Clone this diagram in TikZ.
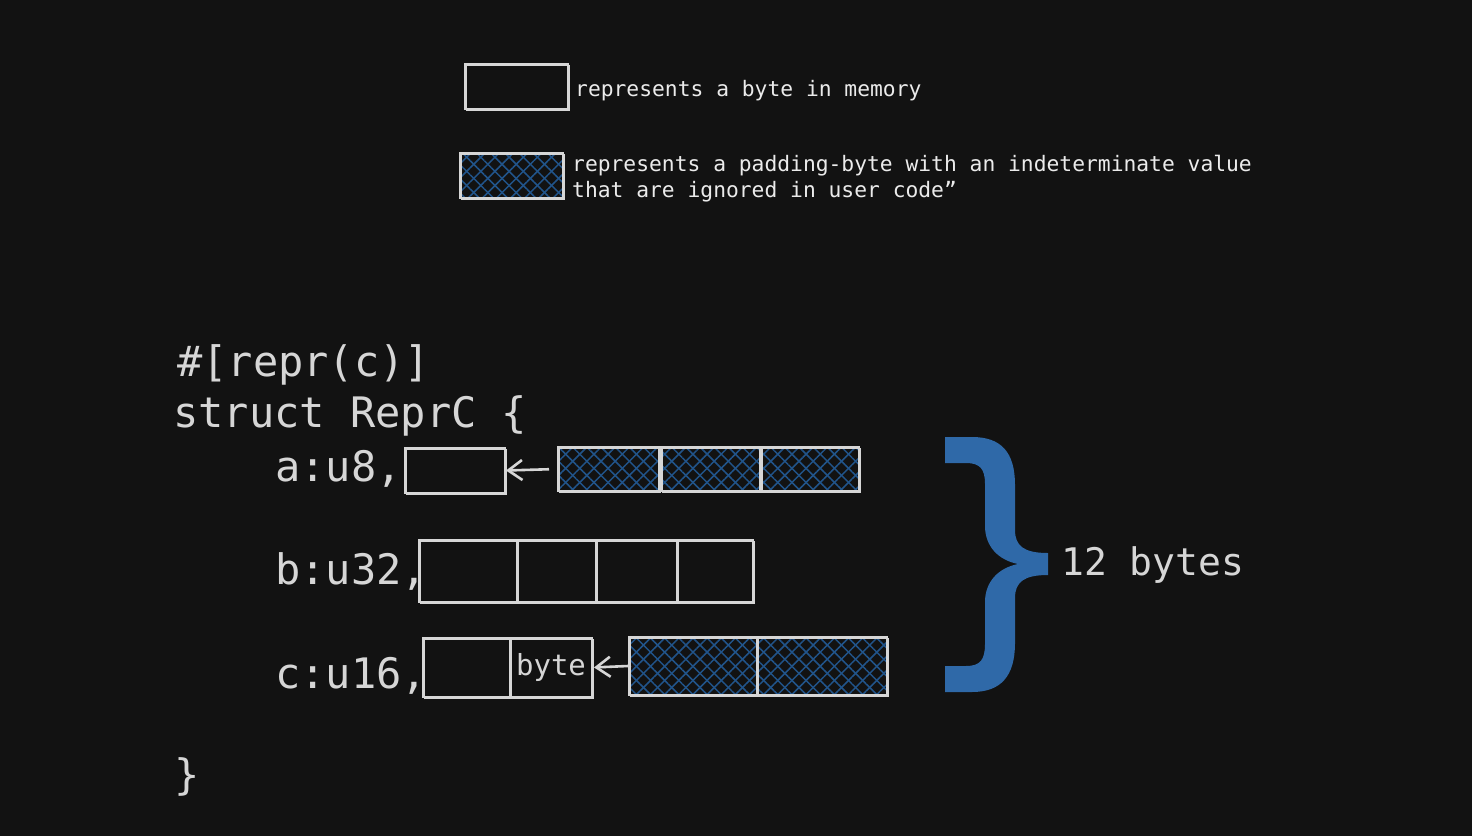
\documentclass[tikz,border=0pt]{standalone}
\usepackage{fontspec}
\setmonofont{DejaVu Sans Mono}
\usetikzlibrary{arrows.meta,patterns.meta}

\definecolor{bgdark}{HTML}{121212}
\definecolor{codegray}{HTML}{D6D6D6}
\definecolor{hatchblue}{HTML}{21548A}
\definecolor{braceblue}{HTML}{2F69A8}

\tikzset{
  bytebox/.style={draw=codegray, line width=2pt, rectangle, inner sep=0pt,
    postaction={draw=codegray, line width=1pt, transform canvas={xshift=1.5pt,yshift=-1.5pt}}},
  padbox/.style={bytebox,
    preaction={fill=bgdark},
    preaction={pattern={Lines[angle=45,distance=10pt,line width=1.5pt]}, pattern color=hatchblue},
    preaction={pattern={Lines[angle=-45,distance=10pt,line width=1.5pt]}, pattern color=hatchblue}},
  codetext/.style={font=\ttfamily\fontsize{42}{42}\selectfont, text=codegray, anchor=base west, inner sep=0pt},
  legendtext/.style={font=\ttfamily\fontsize{21.3}{26}\selectfont, text=white!92!black, anchor=base west, inner sep=0pt, align=left},
  backarrow/.style={draw=codegray, line width=2.6pt, -{Straight Barb[length=14pt,width=20pt,line width=2.6pt]}}
}

\begin{document}
\begin{tikzpicture}[x=1pt,y=-1pt]
  \useasboundingbox[fill=bgdark] (0,0) rectangle (1472,836);

  % legend
  \node[bytebox, minimum width=103pt, minimum height=45pt] (keybyte) at (516.5,86.5) {};
  \node[legendtext] (keybytetxt) at (575,96) {represents a byte in memory};
  \node[padbox, minimum width=103pt, minimum height=45pt] (keypad) at (511.5,175.5) {};
  \node[legendtext] (keypadtxt) at (572,171) {represents a padding-byte with an indeterminate value};
  \node[legendtext] (keypadtxt2) at (572,197) {that are ignored in user code”};

  % the struct
  \node[codetext] (attr) at (177,376) {\#[repr(c)]};
  \node[codetext] (head) at (173,427) {struct ReprC \{};
  \node[codetext] (fa) at (275,481) {a:u8,};
  \node[codetext] (fb) at (275,584) {b:u32,};
  \node[codetext] (fc) at (275,688) {c:u16,};
  \node[codetext] (close) at (174,789) {\}};

  % a: one byte + 3 padding bytes
  \node[bytebox, minimum width=100pt, minimum height=45pt] (a1) at (455,470.5) {};
  \node[padbox, minimum width=101pt, minimum height=44pt] (pa1) at (608.5,469) {};
  \node[padbox, minimum width=99pt, minimum height=44pt] (pa2) at (710,469) {};
  \node[padbox, minimum width=98pt, minimum height=44pt] (pa3) at (809.5,469) {};
  \draw[backarrow, shorten <=8pt] (pa1.west) -- (a1.east);

  % b: four bytes
  \node[bytebox, minimum width=98pt, minimum height=62pt] (b1) at (468,571) {};
  \node[bytebox, minimum width=79pt, minimum height=62pt] (b2) at (556.5,571) {};
  \node[bytebox, minimum width=81pt, minimum height=62pt] (b3) at (636.5,571) {};
  \node[bytebox, minimum width=76pt, minimum height=62pt] (b4) at (715,571) {};

  % c: two bytes + 2 padding bytes
  \node[bytebox, minimum width=87pt, minimum height=59pt] (c1) at (466.5,667.5) {};
  \node[bytebox, minimum width=82pt, minimum height=59pt,
        font=\ttfamily\fontsize{29}{29}\selectfont, text=codegray] (c2) at (551,667.5) {byte};
  \node[padbox, minimum width=128pt, minimum height=58pt] (pc1) at (693,666) {};
  \node[padbox, minimum width=130pt, minimum height=58pt] (pc2) at (822,666) {};
  \draw[backarrow, shorten <=-3pt, shorten >=1pt] (pc1.west) -- (c2.east);

  % brace
  \fill[braceblue] (945,437) -- (972,437) .. controls (1001,437) and (1015,452) .. (1015,485)
    -- (1015,530) .. controls (1015,546) and (1024,553) .. (1048,553) -- (1048,575)
    .. controls (1024,575) and (1015,582) .. (1015,598) -- (1015,643)
    .. controls (1015,676) and (1001,692) .. (972,692) -- (945,692) -- (945,666) -- (966,666)
    .. controls (980,666) and (985,660) .. (985,644) -- (985,602)
    .. controls (985,582) and (998,568) .. (1018,564)
    .. controls (998,560) and (985,546) .. (985,526) -- (985,484)
    .. controls (985,469) and (980,463) .. (966,463) -- (945,463) -- cycle;
  \node[codetext, font=\ttfamily\fontsize{38}{38}\selectfont] (total) at (1061,575) {12 bytes};
\end{tikzpicture}
\end{document}
